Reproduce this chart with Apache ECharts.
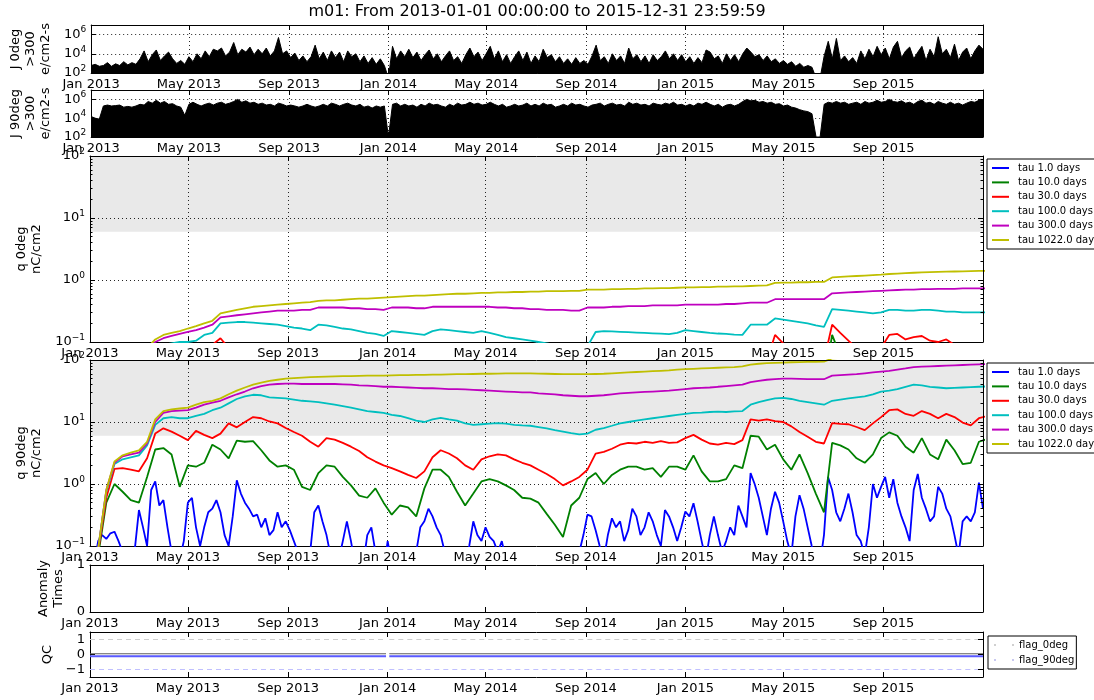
<!DOCTYPE html>
<html>
<head>
<meta charset="utf-8">
<script src="https://cdn.jsdelivr.net/npm/echarts@6/dist/echarts.min.js"></script>
<style>
  html, body { margin: 0; padding: 0; background: #fff; }
  #chart { width: 1094px; height: 700px; }
</style>
</head>
<body>
<div id="chart"></div>
<script>
// ---------------------------------------------------------------------------
// Labels and tick definitions
// ---------------------------------------------------------------------------
const FONT = 'DejaVu Sans';
const chartTitle = 'm01: From 2013-01-01 00:00:00 to 2015-12-31 23:59:59';
const monthNames = ['Jan', 'Feb', 'Mar', 'Apr', 'May', 'Jun', 'Jul', 'Aug', 'Sep', 'Oct', 'Nov', 'Dec'];
const tickYears = [2013, 2014, 2015];
const tickMonths = [0, 4, 8];
const tauNames = ['tau 1.0 days', 'tau 10.0 days', 'tau 30.0 days', 'tau 100.0 days', 'tau 300.0 days', 'tau 1022.0 days'];
const tauColors = ['#0000ff', '#008000', '#ff0000', '#00bfbf', '#bf00bf', '#bfbf00'];
const flagNames = ['flag_0deg', 'flag_90deg'];
const fluxTicks = [1e2, 1e4, 1e6];
const chargeTicks = [0.1, 1, 10, 100];
const anomalyTicks = [0, 1];
const qcTicks = [-1, 0, 1];
const chargeShade = [6, 100];           // shaded charge range, nC/cm2
const fluxStepDays = 5;                 // sampling of the flux and tau 1.0 d series
const chargeStepDays = 10;              // sampling of the other charge series

// ---------------------------------------------------------------------------
// Electron flux > 300 keV, e/cm2-s (5-day samples from 2013-01-01)
// ---------------------------------------------------------------------------
const j0Flux = [
  6e2, 8e2, 5e2, 6e2, 1.2e3, 5e2, 9e2, 6e2, 1.5e3, 7e2,
  1.2e3, 8e2, 3e3, 2e4, 1.5e3, 8e3, 2.5e4, 2e3, 6e3, 1.5e4,
  3e3, 1e3, 2e3, 8e2, 5e3, 1.5e3, 1e4, 3e3, 2e4, 5e3,
  3e4, 2e4, 4e4, 6e3, 1.5e4, 1.5e5, 8e3, 3e4, 1.5e4, 5e4,
  8e3, 3e4, 1e4, 4e4, 6e3, 2e4, 5e5, 1e4, 2e4, 4e3,
  1.2e4, 2e3, 6e3, 1.5e3, 5e3, 8e4, 3e3, 1.5e4, 2e3, 2e4,
  4e3, 1.5e4, 1.5e3, 2e4, 5e3, 1e4, 1.5e3, 6e3, 1e3, 4e3,
  8e2, 3e3, 6e2, 3e1, 6e4, 3e3, 2e4, 5e3, 3e4, 4e3,
  1.5e4, 2e3, 8e3, 2.5e4, 3e3, 1e4, 1.5e3, 6e3, 2e4, 2e3,
  5e3, 1e3, 8e3, 4e4, 5e3, 1.5e4, 2e3, 1e4, 6e4, 3e3,
  2e4, 1.5e3, 8e3, 1e3, 5e3, 2e4, 2e3, 1.5e4, 1e3, 6e3,
  1.5e3, 3e4, 4e3, 8e3, 1.5e3, 5e3, 1e3, 3e3, 8e2, 4e3,
  1e3, 2e3, 8e2, 6e3, 8e4, 2e3, 5e3, 1e3, 1e4, 2e3,
  6e3, 1e3, 4e4, 3e3, 8e3, 1.5e3, 6e3, 1e3, 8e3, 2e3,
  5e3, 2e4, 3e3, 1e4, 2e3, 8e3, 1.5e3, 5e3, 1e3, 4e3,
  1.2e3, 2.5e4, 1.5e4, 3e3, 6e3, 1e3, 1e4, 2e3, 8e3, 1.5e3,
  1e4, 4e4, 1.5e4, 5e3, 8e3, 2e3, 6e3, 1.5e3, 3e3, 1e3,
  2e3, 8e2, 1.5e3, 5e2, 1e3, 4e2, 6e2, 4e2, 3e1, 3e1,
  6e3, 2e5, 3e3, 4e5, 2e3, 6e3, 1.5e3, 4e3, 1e3, 2e4,
  3e3, 3e4, 5e3, 6e4, 8e3, 4e4, 3e3, 5e4, 2e5, 4e3,
  2e4, 5e4, 3e3, 1.5e4, 6e4, 2e3, 3e4, 5e3, 6e5, 1e4,
  3e4, 4e3, 1e5, 2e3, 1.5e4, 4e4, 3e3, 2e4, 8e4, 3e4
];
const j90Flux = [
  1.5e4, 1e4, 8e3, 2e5, 2.5e5, 2e5, 2.2e5, 2.5e5, 1.5e5, 1.8e5,
  1.5e5, 2e5, 3e5, 2.5e5, 6e5, 4e5, 8e5, 4e5, 6e5, 3e5,
  3.5e5, 2e5, 1.5e5, 2e4, 3e5, 5e5, 3e5, 2e5, 3e5, 4e5,
  2.5e5, 4e5, 5e5, 3e5, 4e5, 6e5, 1e6, 5e5, 7e5, 4e5,
  5e5, 3e5, 4e5, 2.5e5, 3e5, 2e5, 4e5, 3e5, 2e5, 2.5e5,
  2e5, 1.5e5, 2e5, 3e5, 2e5, 1.5e5, 2e5, 3e5, 2e5, 4e5,
  3e5, 2e5, 3e5, 4e5, 2.5e5, 2e5, 3e5, 1.5e5, 2e5, 1.2e5,
  2e5, 1.5e5, 2e5, 1e2, 3e5, 4e5, 2e5, 3e5, 2e5, 2.5e5,
  1.5e5, 3e5, 2e5, 4e5, 2.5e5, 3e5, 2e5, 1.5e5, 3e5, 2e5,
  4e5, 2.5e5, 3e5, 5e5, 3e5, 4e5, 2.5e5, 3e5, 5e5, 3e5,
  2e5, 3e5, 1.5e5, 2e5, 3e5, 2e5, 2.5e5, 4e5, 2e5, 3e5,
  2e5, 4e5, 2.5e5, 3e5, 1.5e5, 2e5, 3e5, 2e5, 4e5, 2.5e5,
  3e5, 2e5, 1.5e5, 2.5e5, 3e5, 4e5, 2e5, 3e5, 4e5, 2.5e5,
  3e5, 2e5, 5e5, 3e5, 4e5, 2.5e5, 3e5, 2e5, 4e5, 3e5,
  2.5e5, 4e5, 3e5, 5e5, 2.5e5, 3e5, 2e5, 3e5, 2e5, 4e5,
  3e5, 5e5, 3e5, 2e5, 3e5, 1.5e5, 2.5e5, 3e5, 2e5, 3e5,
  6e5, 1e6, 7e5, 8e5, 5e5, 6e5, 4e5, 5e5, 3e5, 3.5e5,
  2e5, 2.5e5, 1.5e5, 1.2e5, 8e4, 6e4, 5e4, 3e4, 1e2, 1e2,
  3e5, 5e5, 4e5, 6e5, 4e5, 5e5, 3e5, 4e5, 5e5, 3e5,
  6e5, 4e5, 5e5, 8e5, 5e5, 6e5, 1e6, 6e5, 5e5, 7e5,
  4e5, 5e5, 3e5, 6e5, 8e5, 4e5, 5e5, 3e5, 6e5, 4e5,
  3e5, 5e5, 3e5, 4e5, 2.5e5, 4e5, 6e5, 5e5, 8e5, 1e6
];

// ---------------------------------------------------------------------------
// Accumulated charge, nC/cm2, 0 deg telescope (10-day samples)
// ---------------------------------------------------------------------------
const q0Tau10 = [
  0.001, 0.005, 0.01, 0.01, 0.01, 0.01, 0.01, 0.01, 0.02, 0.02,
  0.02, 0.02, 0.02, 0.02, 0.02, 0.02, 0.03, 0.02, 0.02, 0.02,
  0.02, 0.02, 0.02, 0.02, 0.02, 0.02, 0.02, 0.02, 0.02, 0.02,
  0.02, 0.02, 0.02, 0.02, 0.02, 0.02, 0.02, 0.02, 0.02, 0.02,
  0.02, 0.02, 0.02, 0.02, 0.02, 0.02, 0.02, 0.02, 0.02, 0.02,
  0.02, 0.02, 0.02, 0.02, 0.02, 0.02, 0.02, 0.02, 0.02, 0.02,
  0.02, 0.02, 0.02, 0.02, 0.02, 0.02, 0.02, 0.02, 0.02, 0.02,
  0.02, 0.02, 0.02, 0.02, 0.02, 0.02, 0.02, 0.02, 0.02, 0.02,
  0.02, 0.03, 0.02, 0.02, 0.04, 0.03, 0.02, 0.02, 0.02, 0.02,
  0.02, 0.13, 0.06, 0.04, 0.03, 0.03, 0.03, 0.03, 0.04, 0.04,
  0.03, 0.03, 0.04, 0.03, 0.03, 0.03, 0.03, 0.02, 0.02, 0.03,
  0.03
];
const q0Tau30 = [
  0.001, 0.01, 0.02, 0.03, 0.03, 0.04, 0.04, 0.05, 0.05, 0.05,
  0.05, 0.05, 0.05, 0.06, 0.07, 0.09, 0.115, 0.08, 0.06, 0.05,
  0.05, 0.05, 0.05, 0.05, 0.05, 0.05, 0.05, 0.05, 0.05, 0.05,
  0.05, 0.05, 0.05, 0.05, 0.05, 0.05, 0.05, 0.05, 0.05, 0.05,
  0.05, 0.05, 0.05, 0.05, 0.05, 0.05, 0.05, 0.05, 0.05, 0.05,
  0.05, 0.05, 0.05, 0.05, 0.05, 0.05, 0.05, 0.05, 0.05, 0.05,
  0.05, 0.05, 0.05, 0.05, 0.05, 0.05, 0.05, 0.05, 0.05, 0.05,
  0.05, 0.05, 0.05, 0.05, 0.05, 0.05, 0.05, 0.05, 0.05, 0.05,
  0.05, 0.06, 0.05, 0.05, 0.13, 0.095, 0.07, 0.06, 0.05, 0.05,
  0.05, 0.19, 0.14, 0.105, 0.08, 0.07, 0.06, 0.08, 0.13, 0.135,
  0.11, 0.12, 0.125, 0.105, 0.1, 0.11, 0.09, 0.07, 0.06, 0.06,
  0.07
];
const q0Tau100 = [
  0.001, 0.01, 0.02, 0.03, 0.04, 0.05, 0.06, 0.07, 0.08, 0.09,
  0.095, 0.1, 0.1, 0.105, 0.13, 0.14, 0.2, 0.205, 0.21, 0.21,
  0.205, 0.2, 0.195, 0.19, 0.18, 0.17, 0.165, 0.155, 0.19, 0.185,
  0.175, 0.165, 0.16, 0.15, 0.14, 0.135, 0.125, 0.15, 0.145, 0.14,
  0.135, 0.13, 0.15, 0.16, 0.155, 0.15, 0.145, 0.14, 0.15, 0.14,
  0.13, 0.12, 0.115, 0.11, 0.105, 0.1, 0.095, 0.09, 0.085, 0.08,
  0.075, 0.085, 0.145, 0.15, 0.148, 0.146, 0.144, 0.142, 0.14, 0.138,
  0.136, 0.134, 0.14, 0.155, 0.15, 0.145, 0.14, 0.137, 0.135, 0.132,
  0.13, 0.19, 0.19, 0.19, 0.24, 0.23, 0.22, 0.21, 0.2, 0.185,
  0.175, 0.34, 0.33, 0.32, 0.31, 0.3, 0.29, 0.3, 0.33, 0.33,
  0.32, 0.32, 0.33, 0.33, 0.32, 0.31, 0.31, 0.3, 0.3, 0.3,
  0.3
];
const q0Tau300 = [
  0.001, 0.01, 0.02, 0.03, 0.04, 0.05, 0.06, 0.08, 0.1, 0.115,
  0.125, 0.135, 0.145, 0.155, 0.17, 0.19, 0.25, 0.26, 0.27, 0.28,
  0.29, 0.3, 0.31, 0.32, 0.32, 0.32, 0.33, 0.33, 0.36, 0.36,
  0.36, 0.36, 0.35, 0.35, 0.34, 0.34, 0.33, 0.36, 0.36, 0.36,
  0.35, 0.35, 0.37, 0.37, 0.37, 0.37, 0.37, 0.37, 0.37, 0.37,
  0.36, 0.36, 0.35, 0.35, 0.34, 0.34, 0.33, 0.33, 0.33, 0.32,
  0.32, 0.36, 0.36, 0.36, 0.37, 0.37, 0.38, 0.38, 0.38, 0.39,
  0.39, 0.39, 0.39, 0.4, 0.4, 0.4, 0.4, 0.4, 0.41, 0.41,
  0.42, 0.43, 0.43, 0.43, 0.49, 0.49, 0.49, 0.49, 0.49, 0.49,
  0.49, 0.61, 0.62, 0.63, 0.64, 0.65, 0.66, 0.67, 0.68, 0.69,
  0.7, 0.7, 0.71, 0.71, 0.72, 0.72, 0.72, 0.73, 0.73, 0.73,
  0.73
];
const q0Tau1022 = [
  0.001, 0.01, 0.02, 0.03, 0.04, 0.05, 0.06, 0.08, 0.11, 0.13,
  0.14, 0.15, 0.165, 0.18, 0.2, 0.22, 0.29, 0.31, 0.33, 0.35,
  0.37, 0.38, 0.39, 0.4, 0.41, 0.42, 0.43, 0.44, 0.46, 0.47,
  0.47, 0.48, 0.49, 0.5, 0.5, 0.51, 0.52, 0.53, 0.54, 0.55,
  0.56, 0.56, 0.57, 0.58, 0.59, 0.6, 0.6, 0.61, 0.62, 0.62,
  0.63, 0.63, 0.64, 0.64, 0.65, 0.65, 0.66, 0.66, 0.66, 0.67,
  0.67, 0.7, 0.7, 0.7, 0.71, 0.71, 0.72, 0.72, 0.73, 0.73,
  0.74, 0.74, 0.75, 0.76, 0.76, 0.77, 0.77, 0.78, 0.78, 0.79,
  0.79, 0.8, 0.81, 0.82, 0.9, 0.91, 0.91, 0.92, 0.92, 0.93,
  0.93, 1.1, 1.12, 1.14, 1.16, 1.18, 1.2, 1.22, 1.25, 1.27,
  1.29, 1.31, 1.33, 1.34, 1.35, 1.36, 1.37, 1.38, 1.39, 1.4,
  1.41
];

// ---------------------------------------------------------------------------
// Accumulated charge, nC/cm2, 90 deg telescope
// ---------------------------------------------------------------------------
// tau 1.0 days, 5-day samples
const q90Tau1 = [
  0.02, 0.05, 0.12, 0.15, 0.13, 0.16, 0.17, 0.12, 0.08, 0.06,
  0.07, 0.09, 0.38, 0.2, 0.1, 0.8, 1.1, 0.45, 0.55, 0.2,
  0.08, 0.05, 0.06, 0.12, 0.5, 0.6, 0.2, 0.1, 0.2, 0.35,
  0.4, 0.55, 0.35, 0.15, 0.1, 0.3, 1.15, 0.7, 0.5, 0.4,
  0.3, 0.32, 0.2, 0.28, 0.15, 0.18, 0.35, 0.2, 0.25, 0.18,
  0.12, 0.08, 0.06, 0.05, 0.08, 0.35, 0.45, 0.25, 0.15, 0.07,
  0.05, 0.06, 0.12, 0.25, 0.12, 0.05, 0.04, 0.05, 0.15, 0.2,
  0.08, 0.05, 0.04, 0.12, 0.05, 0.04, 0.05, 0.04, 0.05, 0.06,
  0.08, 0.2, 0.25, 0.4, 0.3, 0.2, 0.15, 0.08, 0.05, 0.04,
  0.04, 0.05, 0.06, 0.1, 0.25, 0.15, 0.12, 0.2, 0.14, 0.12,
  0.08, 0.12, 0.06, 0.04, 0.05, 0.05, 0.04, 0.05, 0.07, 0.05,
  0.04, 0.05, 0.05, 0.06, 0.05, 0.04, 0.05, 0.04, 0.05, 0.06,
  0.08, 0.15, 0.32, 0.3, 0.18, 0.1, 0.06, 0.15, 0.28, 0.2,
  0.25, 0.12, 0.18, 0.4, 0.3, 0.15, 0.2, 0.35, 0.25, 0.15,
  0.1, 0.38, 0.3, 0.2, 0.12, 0.2, 0.36, 0.3, 0.49, 0.25,
  0.12, 0.06, 0.15, 0.3, 0.15, 0.08, 0.12, 0.2, 0.15, 0.45,
  0.3, 0.2, 1.5, 1.0, 0.6, 0.3, 0.15, 0.4, 0.75, 0.5,
  0.25, 0.12, 0.07, 0.3, 0.66, 0.4, 0.2, 0.1, 0.06, 0.05,
  0.15, 1.3, 0.8, 0.35, 0.25, 0.4, 0.7, 0.35, 0.15, 0.12,
  0.07, 0.2, 1.0, 0.6, 0.9, 1.3, 0.6, 1.2, 0.5, 0.3,
  0.2, 0.12, 0.8, 1.45, 0.6, 0.4, 0.25, 0.3, 0.9, 0.7,
  0.4, 0.3, 0.15, 0.07, 0.25, 0.3, 0.25, 0.35, 1.05, 0.4
];
// remaining time constants, 10-day samples
const q90Tau10 = [
  0.01, 0.07, 0.5, 1.0, 0.75, 0.55, 0.5, 1.3, 3.6, 3.8,
  3.0, 0.9, 2.0, 1.9, 2.2, 4.3, 3.6, 2.6, 5.0, 4.8,
  4.9, 3.5, 2.4, 1.9, 2.0, 1.7, 0.9, 0.8, 1.5, 2.0,
  1.9, 1.3, 0.95, 0.65, 0.6, 0.85, 0.5, 0.32, 0.45, 0.42,
  0.3, 0.85, 1.7, 1.7, 1.3, 0.75, 0.45, 0.7, 1.1, 1.2,
  1.1, 0.95, 0.8, 0.6, 0.58, 0.5, 0.33, 0.22, 0.14, 0.45,
  0.6, 1.2, 1.5, 1.0, 1.4, 1.7, 1.9, 1.9, 1.7, 1.8,
  1.3, 1.9, 1.9, 1.7, 2.9, 1.6, 1.1, 1.1, 1.2, 2.0,
  1.8, 6.0, 5.8, 3.6, 4.3, 2.5, 1.7, 3.0, 1.5, 0.7,
  0.35, 4.6, 4.2, 3.6, 2.6, 2.2, 3.0, 5.5, 6.8, 6.0,
  4.0, 3.2, 5.5, 3.0, 2.5, 5.2, 3.5, 2.1, 2.2, 4.8,
  5.3
];
const q90Tau30 = [
  0.01, 0.08, 0.6, 1.75, 1.8, 1.7, 1.6, 2.6, 6.5, 7.9,
  7, 6, 5.1, 7.2, 6.2, 5.5, 6.5, 9.5, 8.2, 10,
  12, 11.5, 10.2, 9.5, 8, 6.9, 6, 4.8, 4, 5.5,
  5.2, 4.6, 4, 3.4, 2.7, 2.3, 2, 1.8, 1.6, 1.4,
  1.25, 1.6, 2.7, 3.5, 3.1, 2.6, 2, 1.7, 2.5, 2.8,
  3.0, 2.9, 2.5, 2.2, 2.0, 1.7, 1.45, 1.2, 0.95, 1.1,
  1.3, 1.7, 3.1, 3.3, 3.7, 4.3, 4.6, 4.5, 4.8, 4.6,
  4.9, 4.6, 4.7, 5.5, 6.2, 5.2, 4.5, 4.3, 4.6, 4.4,
  5.1, 11, 10.5, 11, 10.3, 10, 8.5, 6.9, 5.8, 4.8,
  4.5, 9.6, 9.3, 9.2, 8.3, 7.4, 9.5, 12, 15.5, 16,
  13.5, 12.6, 15, 13.5, 11.5, 13.5, 12, 9.8, 8.8, 11.5,
  12.5
];
const q90Tau100 = [
  0.01, 0.09, 0.75, 2.1, 2.5, 2.7, 2.9, 4.2, 9, 11.5,
  12, 11.5, 11.5, 12.5, 13.5, 15.5, 17, 20, 23.5, 26,
  27.5, 27, 25, 24.5, 24, 23, 22, 21.5, 21, 20,
  19, 18, 17, 16, 15, 14.5, 14, 13, 12.5, 11.5,
  10.5, 10, 11, 11.7, 11, 10.5, 9.5, 9, 9.2, 9.4,
  9.6, 9.4, 9, 8.8, 8.7, 8.3, 7.9, 7.4, 7, 6.6,
  6.3, 6.5, 7.5, 8, 8.7, 9.5, 10, 10.5, 11, 11.5,
  12, 12.5, 13, 13.5, 14, 14.2, 14.5, 14.7, 14.5, 14.8,
  15, 19, 21, 22.5, 24, 24.5, 23.5, 22, 21, 20,
  19, 22, 23, 24, 25, 26, 28, 31, 32, 34,
  37, 40, 39, 37, 36, 35, 35.5, 36, 36.5, 37,
  37.5
];
const q90Tau300 = [
  0.01, 0.09, 0.8, 2.2, 2.8, 3.0, 3.2, 4.5, 10, 14,
  15, 15.3, 15.5, 17, 19, 20.5, 22, 25, 28, 31,
  35, 38, 40, 41, 41.5, 41.5, 41, 41, 41, 41,
  41, 40.5, 40, 39, 38.5, 38, 37, 37, 36.5, 36,
  35.5, 35, 35, 34.5, 34, 34, 33.5, 33, 32.5, 32,
  31.5, 31, 30.5, 30, 30, 29, 28.5, 28, 27, 26.5,
  26, 26, 26.5, 27, 28, 29, 29.5, 30, 30.5, 31,
  31.5, 32, 33, 34, 35, 35.5, 36, 37, 38, 39,
  40, 44, 46, 48, 49, 50, 50, 49.5, 49, 49,
  49, 56, 57, 58, 59, 61, 63, 65, 67, 70,
  73, 77, 78, 79, 80, 81, 82, 83, 84, 85,
  86
];
const q90Tau1022 = [
  0.01, 0.09, 0.8, 2.3, 2.9, 3.2, 3.5, 4.8, 11, 15,
  16, 16.5, 17, 19, 21, 22, 24, 28, 32, 36,
  40, 43, 46, 48, 50, 51, 52, 53, 53.5, 54,
  54.5, 55, 55, 55.5, 56, 56, 56, 56.5, 57, 57,
  57.5, 57.5, 58, 58, 58.5, 59, 59, 59.5, 60, 60,
  60.5, 61, 61, 61, 61, 60.5, 60, 59.5, 59, 59,
  59, 59, 59.5, 60, 61, 62, 63, 64, 65, 66,
  67, 68, 70, 71, 72, 73, 74, 75, 76, 77,
  79, 84, 87, 89, 90, 91, 92, 92.5, 93, 93.5,
  94, 106, 108, 109, 110, 111, 112, 114, 116, 117,
  119, 121, 122, 123, 124, 125, 126, 127, 128, 129,
  130
];

// ---------------------------------------------------------------------------
// QC flags (levels per time span; null marks the data gap at the year change)
// ---------------------------------------------------------------------------
const qcTimes = ['2013-01-01', '2013-12-30', '2014-01-01', '2014-01-03', '2016-01-01'];
const flag0Level = [0.05, 0.05, null, 0.05, 0.05];
const flag0Raised = [1, 1, null, 1, 1];
const flag90Level = [-0.12, -0.12, null, -0.12, -0.12];
const flag90Raised = [-1, -1, null, -1, -1];

// ---------------------------------------------------------------------------
// Time helpers (the x axes are numeric axes in milliseconds)
// ---------------------------------------------------------------------------
function dayStamp(offset) { return new Date(2013, 0, 1 + offset).getTime(); }
function parseDay(s) { const [y, m, d] = s.split('-').map(Number); return new Date(y, m - 1, d).getTime(); }
const axisStart = new Date(2013, 0, 1).getTime();
const axisEnd = new Date(2016, 0, 1).getTime();
const tickStamps = [];
tickYears.forEach(y => tickMonths.forEach(m => tickStamps.push(new Date(y, m, 1).getTime())));
const fluxDates = j0Flux.map((_, i) => dayStamp(i * fluxStepDays));
const chargeDates = q90Tau1022.map((_, i) => dayStamp(i * chargeStepDays));
const qcStamps = qcTimes.map(parseDay);
const pairs = (dates, values) => values.map((v, i) => [dates[i], v]);

const chargeMinorTicks = [];
[0.1, 1, 10].forEach(d => { for (let k = 2; k <= 9; k++) chargeMinorTicks.push(+(d * k).toPrecision(3)); });

// ---------------------------------------------------------------------------
// Panel layout
// ---------------------------------------------------------------------------
const supRich = { sup: { fontSize: 9, fontFamily: FONT, color: '#000', verticalAlign: 'top', padding: [0, 0, 9, 0] } };
const powerLabel = v => {
  const e = Math.round(Math.log10(v));
  return '10{sup|' + (e < 0 ? '\u2212' + (-e) : e) + '}';
};
const plainLabel = v => (v < 0 ? '\u2212' + (-v) : String(v));
const dateLabel = v => { const d = new Date(v); return monthNames[d.getMonth()] + ' ' + d.getFullYear(); };
const dotted = { color: '#000', width: 1, type: [1, 3], opacity: 0.85 };

const panels = [
  { top: 25,  height: 48,  scale: { type: 'log', min: 1e2, max: 1e7 }, ticks: fluxTicks, fmt: powerLabel, grid: true,
    name: 'J 0deg\n>300\ne/cm2-s', nameGap: 32 },
  { top: 90,  height: 47,  scale: { type: 'log', min: 1e2, max: 1e7 }, ticks: fluxTicks, fmt: powerLabel, grid: true,
    name: 'J 90deg\n>300\ne/cm2-s', nameGap: 32 },
  { top: 156, height: 186, scale: { type: 'log', min: 0.1, max: 100 }, ticks: chargeTicks, fmt: powerLabel, grid: true,
    minor: true, name: 'q 0deg\nnC/cm2', nameGap: 36 },
  { top: 360, height: 186, scale: { type: 'log', min: 0.1, max: 100 }, ticks: chargeTicks, fmt: powerLabel, grid: true,
    minor: true, name: 'q 90deg\nnC/cm2', nameGap: 36 },
  { top: 565, height: 47,  scale: { type: 'value', min: 0, max: 1 }, ticks: anomalyTicks, fmt: plainLabel, grid: false,
    name: 'Anomaly\nTimes', nameGap: 22 },
  { top: 632, height: 45,  scale: { type: 'value', min: -1.5, max: 1.5 }, ticks: qcTicks, fmt: plainLabel, grid: false,
    name: 'QC', nameGap: 32 }
];

const grids = [], xAxes = [], yAxes = [], mainX = [], mainY = [];

function timeAxis(k, position, main, gridLines) {
  return {
    type: 'value', gridIndex: k, position, min: axisStart, max: axisEnd, z: main ? 1.5 : 3,
    axisLine: { show: true, onZero: false, lineStyle: { color: '#000', width: 1 } },
    axisTick: { show: true, inside: true, length: 5, customValues: tickStamps, lineStyle: { color: '#000' } },
    axisLabel: main ? {
      show: true, customValues: tickStamps, hideOverlap: false, margin: 5,
      fontFamily: FONT, fontSize: 13, color: '#000', formatter: dateLabel
    } : { show: false },
    splitLine: { show: main && gridLines, lineStyle: dotted }
  };
}

function valueAxis(p, k, position, main) {
  const ax = {
    type: p.scale.type, gridIndex: k, position, min: p.scale.min, max: p.scale.max, z: main ? 1.5 : 3,
    axisLine: { show: true, onZero: false, lineStyle: { color: '#000', width: 1 } },
    axisTick: { show: true, inside: true, length: 5, customValues: p.ticks, lineStyle: { color: '#000' } },
    axisLabel: main ? {
      show: true, customValues: p.ticks, formatter: p.fmt, margin: 5, hideOverlap: false,
      fontFamily: FONT, fontSize: 13, color: '#000', rich: supRich
    } : { show: false },
    splitLine: { show: main && p.grid, lineStyle: dotted },
    name: main ? p.name : '', nameLocation: 'middle', nameRotate: 90, nameGap: p.nameGap,
    nameTextStyle: { fontFamily: FONT, fontSize: 13, lineHeight: 15, color: '#000' }
  };
  if (p.scale.type === 'log') ax.logBase = 10;
  return ax;
}

function minorAxis(p, k, position) {
  return {
    type: 'log', logBase: 10, gridIndex: k, position, min: p.scale.min, max: p.scale.max, z: 3,
    axisLine: { show: false },
    axisTick: { show: true, inside: true, length: 2.5, customValues: chargeMinorTicks, lineStyle: { color: '#000' } },
    axisLabel: { show: false }, splitLine: { show: false }
  };
}

panels.forEach((p, k) => {
  grids.push({ left: 90, width: 893, top: p.top, height: p.height, containLabel: false });
  mainX.push(xAxes.length);
  xAxes.push(timeAxis(k, 'bottom', true, p.grid));
  xAxes.push(timeAxis(k, 'top', false, false));
  mainY.push(yAxes.length);
  yAxes.push(valueAxis(p, k, 'left', true));
  yAxes.push(valueAxis(p, k, 'right', false));
  if (p.minor) {
    yAxes.push(minorAxis(p, k, 'left'));
    yAxes.push(minorAxis(p, k, 'right'));
  }
});

// ---------------------------------------------------------------------------
// Series
// ---------------------------------------------------------------------------
const series = [];

function fluxSeries(k, values) {
  return {
    type: 'line', xAxisIndex: mainX[k], yAxisIndex: mainY[k], data: pairs(fluxDates, values),
    symbol: 'none', silent: true, clip: true, z: 2,
    lineStyle: { color: '#000', width: 1 },
    areaStyle: { color: '#000', opacity: 1, origin: 'start' }
  };
}
series.push(fluxSeries(0, j0Flux));
series.push(fluxSeries(1, j90Flux));

function shadeSeries(k) {
  return {
    type: 'line', xAxisIndex: mainX[k], yAxisIndex: mainY[k], data: [], silent: true, z: 1,
    markArea: {
      silent: true, z: 1, itemStyle: { color: '#e9e9e9' },
      data: [[{ yAxis: chargeShade[0] }, { yAxis: chargeShade[1] }]]
    }
  };
}

function chargeSeries(k, tauIdx, dates, values) {
  return {
    type: 'line', name: tauNames[tauIdx], xAxisIndex: mainX[k], yAxisIndex: mainY[k],
    data: pairs(dates, values), symbol: 'none', silent: true, clip: true, z: 2,
    color: tauColors[tauIdx],
    lineStyle: { color: tauColors[tauIdx], width: 1.8 },
    itemStyle: { color: tauColors[tauIdx] }
  };
}

// q 0deg panel
series.push(shadeSeries(2));
series.push(chargeSeries(2, 1, chargeDates, q0Tau10));
series.push(chargeSeries(2, 2, chargeDates, q0Tau30));
series.push(chargeSeries(2, 3, chargeDates, q0Tau100));
series.push(chargeSeries(2, 4, chargeDates, q0Tau300));
series.push(chargeSeries(2, 5, chargeDates, q0Tau1022));

// q 90deg panel
series.push(shadeSeries(3));
series.push(chargeSeries(3, 0, fluxDates, q90Tau1));
series.push(chargeSeries(3, 1, chargeDates, q90Tau10));
series.push(chargeSeries(3, 2, chargeDates, q90Tau30));
series.push(chargeSeries(3, 3, chargeDates, q90Tau100));
series.push(chargeSeries(3, 4, chargeDates, q90Tau300));
series.push(chargeSeries(3, 5, chargeDates, q90Tau1022));

// QC flags
function flagSeries(name, values, color, width, type) {
  return {
    type: 'line', name, xAxisIndex: mainX[5], yAxisIndex: mainY[5], data: pairs(qcStamps, values),
    symbol: 'none', silent: true, connectNulls: false, z: 2, color,
    lineStyle: { color, width, type }
  };
}
series.push(flagSeries(flagNames[0], flag0Raised, '#cfcfcf', 1, [5, 4]));
series.push(flagSeries(flagNames[1], flag90Raised, '#c0c0ff', 1, [5, 4]));
series.push(flagSeries(flagNames[0], flag0Level, '#606060', 1.2, 'solid'));
series.push(flagSeries(flagNames[1], flag90Level, '#5a5aff', 2, 'solid'));

// ---------------------------------------------------------------------------
// Legends
// ---------------------------------------------------------------------------
function tauLegend(top) {
  return {
    orient: 'vertical', left: 987, top, data: tauNames, selectedMode: false,
    icon: 'rect', itemWidth: 17, itemHeight: 2, itemGap: 0.4,
    padding: [2, 40, 2, 5], borderColor: '#000', borderWidth: 1, borderRadius: 0, backgroundColor: '#fff',
    textStyle: { fontFamily: FONT, fontSize: 10, lineHeight: 14, color: '#000', padding: [0, 0, 0, 4] }
  };
}
const legends = [
  tauLegend(159),
  tauLegend(363),
  {
    orient: 'vertical', left: 988, top: 636, selectedMode: false,
    data: [
      { name: flagNames[0], itemStyle: { color: '#d0d0d0' } },
      { name: flagNames[1], itemStyle: { color: '#c8c8f0' } }
    ],
    icon: 'path://M0,0h2v2h-2zM18,0h2v2h-2z', itemWidth: 20, itemHeight: 2, itemGap: 1,
    padding: [2, 2, 2, 6], borderColor: '#000', borderWidth: 1, backgroundColor: '#fff',
    textStyle: { fontFamily: FONT, fontSize: 10, lineHeight: 14, color: '#000' }
  }
];

// ---------------------------------------------------------------------------
// Chart
// ---------------------------------------------------------------------------
const chart = echarts.init(document.getElementById('chart'), null, { renderer: 'canvas' });
chart.setOption({
  animation: false,
  backgroundColor: '#fff',
  textStyle: { fontFamily: FONT },
  graphic: [{
    type: 'text', x: 537, y: 12,
    style: { text: chartTitle, fontFamily: FONT, fontSize: 16, fill: '#000', align: 'center', verticalAlign: 'middle' }
  }],
  legend: legends,
  grid: grids,
  xAxis: xAxes,
  yAxis: yAxes,
  series
});
</script>
</body>
</html>
